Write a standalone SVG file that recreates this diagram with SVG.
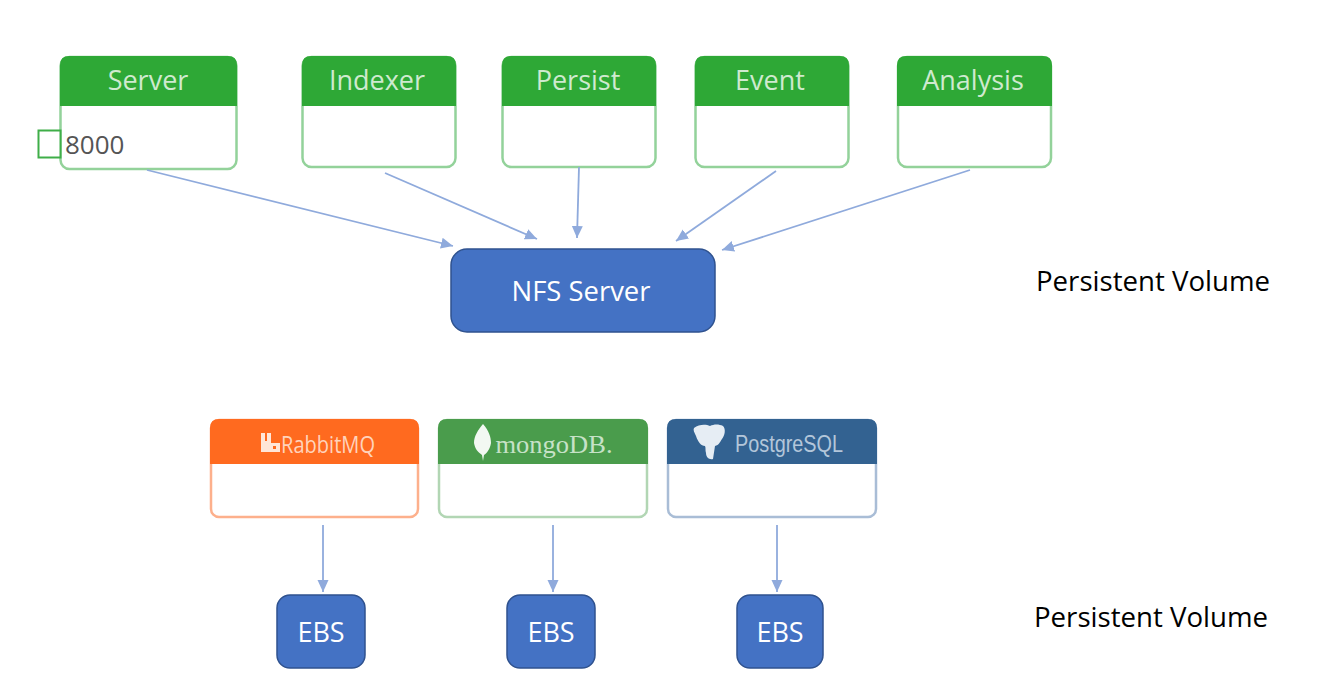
<svg xmlns="http://www.w3.org/2000/svg" width="1324" height="694" viewBox="0 0 1324 694">
<style>
.box{fill:#fff;stroke-width:2.5}
.gb{stroke:#93d29a}.gh{fill:#2ea836}
.t{font-family:"Open Sans","Noto Sans",sans-serif;font-size:27px;fill:#cfeacf;text-anchor:middle}
.blue{fill:#4472c4;stroke:#2f528f;stroke-width:1.5}
.w{font-family:"Open Sans","Noto Sans",sans-serif;fill:#fff;text-anchor:middle;font-size:27px;font-weight:500}
.pv{font-family:"Open Sans","Noto Sans",sans-serif;fill:#000;font-size:27.500px}
.c line{stroke:#8faadc;stroke-width:1.8;marker-end:url(#a)}
</style>
<defs><marker id="a" markerUnits="userSpaceOnUse" markerWidth="13" markerHeight="12" refX="12" refY="5.5" orient="auto"><path d="M0 0L12 5.5L0 11z" fill="#8faadc"/></marker></defs>
<rect width="1324" height="694" fill="#fff"/>
<g id="server">
<rect class="box gb" x="60.500" y="57" width="176" height="112" rx="9"/>
<path class="gh" d="M60 106V65q0-9 9-9H228q9 0 9 9V106z"/>
<text class="t" x="148" y="90">Server</text>
<rect x="38.500" y="130.500" width="22" height="27" fill="#fff" stroke="#3fae48" stroke-width="2"/>
<text x="65" y="154" font-family="'Open Sans','Noto Sans',sans-serif" font-size="26" font-weight="500" fill="#555">8000</text>
</g>
<g id="indexer">
<rect class="box gb" x="302.500" y="57" width="153" height="110" rx="9"/>
<path class="gh" d="M302 106V65q0-9 9-9H447q9 0 9 9V106z"/>
<text class="t" x="377" y="90">Indexer</text>
</g>
<g id="persist">
<rect class="box gb" x="502.500" y="57" width="153" height="110" rx="9"/>
<path class="gh" d="M502 106V65q0-9 9-9H647q9 0 9 9V106z"/>
<text class="t" x="578" y="90">Persist</text>
</g>
<g id="event">
<rect class="box gb" x="695.500" y="57" width="153" height="110" rx="9"/>
<path class="gh" d="M695 106V65q0-9 9-9H840q9 0 9 9V106z"/>
<text class="t" x="770" y="90">Event</text>
</g>
<g id="analysis">
<rect class="box gb" x="898" y="57" width="153" height="110" rx="9"/>
<path class="gh" d="M897 106V65q0-9 9-9H1043q9 0 9 9V106z"/>
<text class="t" x="973" y="90">Analysis</text>
</g>
<g id="nfs">
<rect class="blue" x="451" y="249" width="264" height="83" rx="16"/>
<text class="w" x="581" y="301" textLength="139" lengthAdjust="spacingAndGlyphs">NFS Server</text>
</g>
<g id="rabbitmq">
<rect class="box" stroke="#fdb08c" x="211" y="420" width="207" height="97" rx="8"/>
<path fill="#ff6a1f" d="M210 464V428q0-9 9-9H410q9 0 9 9V464z"/>
<path fill="#ffe6d8" fill-rule="evenodd" d="M261 433h4v8h2v-8h4v10h9v9h-19zM273 446v3h3v-3z"/>
<text x="328" y="453" font-family="'Open Sans','Noto Sans',sans-serif" font-size="24" textLength="94" lengthAdjust="spacingAndGlyphs" fill="#ffd3bb" text-anchor="middle">RabbitMQ</text>
</g>
<g id="mongodb">
<rect class="box" stroke="#b2d6b4" x="439" y="420" width="208" height="97" rx="8"/>
<path fill="#4a9c4c" d="M438 464V428q0-9 9-9H639q9 0 9 9V464z"/>
<path fill="#f2f8f2" d="M483 424c6 7 8 13 8 19c-1 6-4 10-7 12l-1 6l-1-6c-4-3-7-6-8-12c0-7 4-13 9-19z"/>
<text x="554" y="453" font-family="'Liberation Serif',serif" font-size="26" textLength="117" lengthAdjust="spacingAndGlyphs" fill="#c6e2c7" text-anchor="middle">mongoDB.</text>
</g>
<g id="postgresql">
<rect class="box" stroke="#a9bdd6" x="668" y="420" width="208" height="97" rx="8"/>
<path fill="#336291" d="M667 464V428q0-9 9-9H868q9 0 9 9V464z"/>
<path fill="#e6edf4" d="M694 428c5-4 12-4 16-2c4-2 9-2 13 0c3 3 2 9-1 13c-2 3-3 6-7 7l-2 13c-4 1-7-2-7-6c-1-3 0-5-1-7c-4 0-7-4-9-10c-2-4-3-6-2-8z"/>
<text x="789" y="452" font-family="'Liberation Sans',sans-serif" font-size="24" textLength="108" lengthAdjust="spacingAndGlyphs" fill="#b3c6da" text-anchor="middle">PostgreSQL</text>
</g>
<g id="ebs1"><rect class="blue" x="277" y="595" width="88" height="73" rx="13"/><text class="w" x="321" y="642">EBS</text></g>
<g id="ebs2"><rect class="blue" x="507" y="595" width="88" height="73" rx="13"/><text class="w" x="551" y="642">EBS</text></g>
<g id="ebs3"><rect class="blue" x="737" y="595" width="86" height="73" rx="13"/><text class="w" x="780" y="642">EBS</text></g>
<g id="connectors" class="c">
<line x1="147" y1="170" x2="453" y2="246"/>
<line x1="385" y1="173" x2="537" y2="239"/>
<line x1="579" y1="167" x2="577" y2="238"/>
<line x1="776" y1="171" x2="676" y2="241"/>
<line x1="970" y1="170" x2="722" y2="250"/>
<line x1="323" y1="525" x2="323" y2="592"/>
<line x1="553" y1="525" x2="553" y2="592"/>
<line x1="777" y1="525" x2="777" y2="592"/>
</g>
<text class="pv" x="1036" y="291" textLength="234" lengthAdjust="spacingAndGlyphs">Persistent Volume</text>
<text class="pv" x="1034" y="627" textLength="234" lengthAdjust="spacingAndGlyphs">Persistent Volume</text>
</svg>
